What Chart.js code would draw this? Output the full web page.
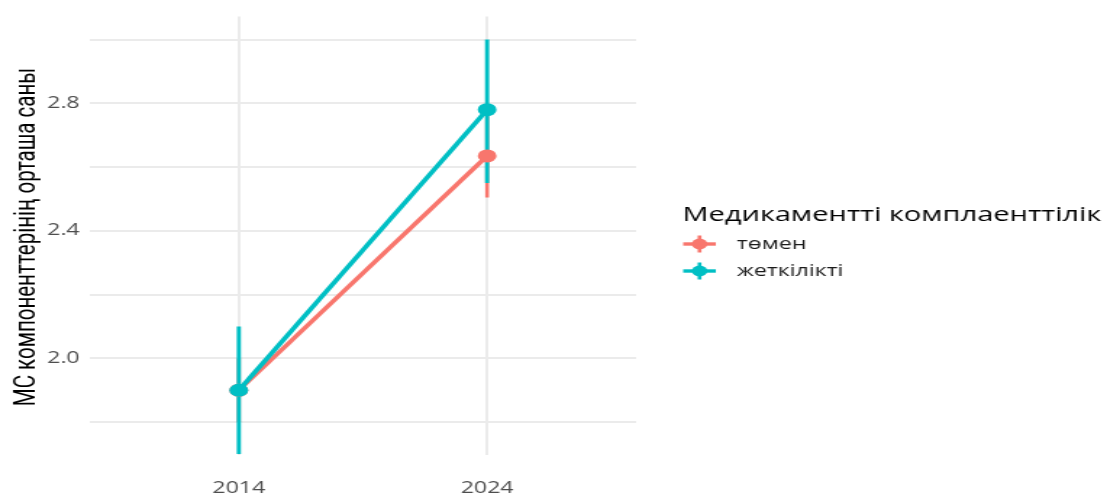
<!DOCTYPE html>
<html>
<head>
<meta charset="utf-8">
<script src="https://cdn.jsdelivr.net/npm/chart.js@4"></script>
<style>
  html, body { margin: 0; padding: 0; background: #ffffff; overflow: hidden; }
  /* the figure is laid out at 764px and widened to fill the 1107px page */
  #wrap { width: 764px; height: 495px; transform: scaleX(1.44895); transform-origin: 0 0; }
</style>
</head>
<body>
<div id="wrap"><canvas id="c" width="764" height="495"></canvas></div>
<script>
// Survey years on the x axis
const years = ['2014', '2024'];

// Mean number of MS components by compliance group, with interval bounds
const lowMean  = [1.90, 2.635];
const lowLower = [1.80, 2.505];
const lowUpper = [2.00, 2.765];

const highMean  = [1.90, 2.78];
const highLower = [1.70, 2.55];
const highUpper = [2.10, 3.00];

const groupNames = ['төмен', 'жеткілікті'];
const legendTitle = 'Медикаментті комплаенттілік';
const yTitle = 'МС компоненттерінің орташа саны';

const yTicks = [1.8, 2.0, 2.2, 2.4, 2.6, 2.8, 3.0];
const yLabelled = [2.0, 2.4, 2.8];

const RED = '#F8766D';
const TEAL = '#00BFC4';

function meanSeries(values) {
  return values.map((v, i) => ({ x: i + 1, y: v }));
}
function barSeries(lo, hi, i) {
  return [{ x: i + 1, y: lo[i] }, { x: i + 1, y: hi[i] }];
}

const datasets = [];
// interval bars drawn underneath the lines and points
[[lowLower, lowUpper, RED, 2.6], [highLower, highUpper, TEAL, 2.9]].forEach(([lo, hi, col, w], gi) => {
  years.forEach((_, i) => {
    datasets.push({
      data: barSeries(lo, hi, i),
      borderColor: col,
      borderWidth: w,
      borderCapStyle: 'butt',
      pointRadius: 0,
      showLine: true,
      order: 10 - gi
    });
  });
});
datasets.push({
  label: groupNames[0],
  data: meanSeries(lowMean),
  borderColor: RED,
  backgroundColor: RED,
  borderWidth: 3.6,
  pointRadius: 6.5,
  pointBorderWidth: 0,
  showLine: true,
  order: 2
});
datasets.push({
  label: groupNames[1],
  data: meanSeries(highMean),
  borderColor: TEAL,
  backgroundColor: TEAL,
  borderWidth: 3.6,
  pointRadius: 6.5,
  pointBorderWidth: 0,
  showLine: true,
  order: 1
});

// Legend and rotated axis title drawn beside the plot
const sidePlugin = {
  id: 'side',
  afterDraw(chart) {
    const ctx = chart.ctx;
    ctx.save();
    ctx.translate(18.5, 237);
    ctx.rotate(-Math.PI / 2);
    ctx.fillStyle = '#000000';
    ctx.font = '20.5px Roboto, sans-serif';
    ctx.textAlign = 'center';
    ctx.textBaseline = 'middle';
    ctx.fillText(yTitle, 0, 0);
    ctx.restore();

    ctx.save();
    ctx.fillStyle = '#000000';
    ctx.font = '20px "Open Sans", sans-serif';
    ctx.textBaseline = 'middle';
    ctx.textAlign = 'left';
    ctx.fillText(legendTitle, 471, 215);
    const rows = [[RED, 244], [TEAL, 271]];
    rows.forEach(([col, y], i) => {
      ctx.strokeStyle = col;
      ctx.fillStyle = col;
      ctx.lineWidth = 3.4;
      ctx.beginPath();
      ctx.moveTo(471.5, y); ctx.lineTo(494, y);
      ctx.stroke();
      ctx.lineWidth = 2.6;
      ctx.beginPath();
      ctx.moveTo(482.8, y - 8.5); ctx.lineTo(482.8, y + 8.5);
      ctx.stroke();
      ctx.beginPath();
      ctx.arc(482.8, y, 5.4, 0, Math.PI * 2);
      ctx.fill();
      ctx.fillStyle = '#1a1a1a';
      ctx.font = '16px "Open Sans", sans-serif';
      ctx.fillText(groupNames[i], 508.5, y);
    });
    ctx.restore();
  }
};

new Chart(document.getElementById('c'), {
  type: 'scatter',
  data: { datasets },
  plugins: [sidePlugin],
  options: {
    responsive: false,
    animation: false,
    layout: { padding: { left: 0, right: 325, top: 11, bottom: 0 } },
    plugins: { legend: { display: false }, tooltip: { enabled: false } },
    scales: {
      x: {
        type: 'linear',
        min: 0.4,
        max: 2.6,
        border: { display: false },
        grid: { color: '#ebebeb', lineWidth: 2, drawTicks: false },
        afterBuildTicks(scale) { scale.ticks = years.map((_, i) => ({ value: i + 1 })); },
        afterFit(scale) { scale.height = 40; },
        ticks: {
          padding: 24,
          color: '#4d4d4d',
          font: { family: '"Open Sans", sans-serif', size: 16 },
          callback: (v) => years[Math.round(v) - 1] ?? ''
        }
      },
      y: {
        min: 1.697,
        max: 3.072,
        border: { display: false },
        grid: { color: '#ebebeb', lineWidth: 2, drawTicks: false },
        afterBuildTicks(scale) { scale.ticks = yTicks.map(v => ({ value: v })); },
        afterFit(scale) { scale.width = 62; },
        ticks: {
          padding: 7,
          color: '#4d4d4d',
          font: { family: '"Open Sans", sans-serif', size: 16 },
          callback: (v) => yLabelled.some(t => Math.abs(t - v) < 1e-6) ? v.toFixed(1) : ''
        }
      }
    }
  }
});
</script>
</body>
</html>
